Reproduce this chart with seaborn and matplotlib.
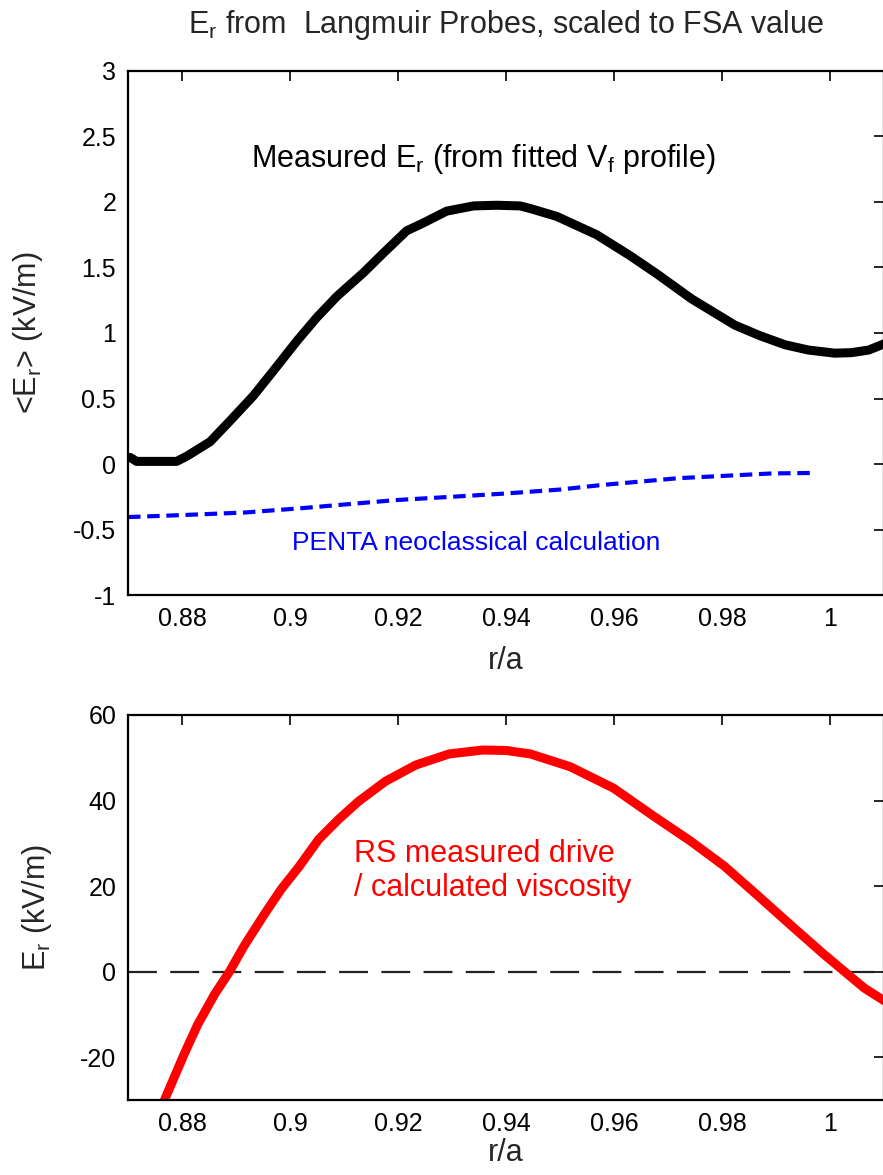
import matplotlib
matplotlib.use("Agg")
import matplotlib.pyplot as plt
import numpy as np
import pandas as pd
import seaborn as sns

# Measured Er profile from Langmuir probes (FSA-scaled), kV/m
meas_x = [0.8704, 0.8716, 0.8750, 0.8790, 0.8809, 0.8852, 0.8889, 0.8932,
          0.8969, 0.9013, 0.9050, 0.9087, 0.9136, 0.9173, 0.9216, 0.9247,
          0.9290, 0.9340, 0.9383, 0.9426, 0.9445, 0.9494, 0.9568, 0.9630,
          0.9680, 0.9744, 0.9824, 0.9870, 0.9917, 0.9960, 1.0009, 1.0040,
          1.0072, 1.0102]
meas_er = [0.05, 0.02, 0.02, 0.02, 0.06, 0.17, 0.33, 0.52,
           0.71, 0.94, 1.12, 1.28, 1.46, 1.61, 1.78, 1.84,
           1.93, 1.97, 1.975, 1.97, 1.95, 1.89, 1.75, 1.59,
           1.45, 1.26, 1.06, 0.98, 0.91, 0.87, 0.846, 0.85,
           0.87, 0.92]

# PENTA neoclassical Er, kV/m
penta_x = [0.8700, 0.8800, 0.8917, 0.9022, 0.9194, 0.9300, 0.9400,
           0.9500, 0.9578, 0.9720, 0.9806, 0.9893, 0.9972]
penta_er = [-0.405, -0.390, -0.370, -0.337, -0.276, -0.250, -0.225,
            -0.195, -0.160, -0.108, -0.090, -0.072, -0.068]

# Er from Reynolds-stress drive / calculated viscosity, kV/m
rs_x = [0.8767, 0.8804, 0.8829, 0.8860, 0.8888, 0.8916, 0.8953, 0.8984,
        0.9016, 0.9053, 0.9090, 0.9127, 0.9177, 0.9233, 0.9295, 0.9357,
        0.9400, 0.9445, 0.9519, 0.9599, 0.9674, 0.9742, 0.9804, 0.9866,
        0.9928, 0.9990, 1.0027, 1.0064, 1.0104]
rs_er = [-30.2, -19.3, -12.4, -5.4, 0.0, 6.2, 13.5, 19.3,
         24.4, 30.9, 35.6, 39.8, 44.5, 48.3, 50.9, 51.8,
         51.7, 50.9, 47.9, 42.9, 36.3, 30.5, 24.7, 17.8,
         10.8, 3.9, 0.0, -3.9, -7.1]

top_yticks = [-1, -0.5, 0, 0.5, 1, 1.5, 2, 2.5, 3]
top_ylabels = ["-1", "-0.5", "0", "0.5", "1", "1.5", "2", "2.5", "3"]
bot_yticks = [-20, 0, 20, 40, 60]
bot_ylabels = ["-20", "0", "20", "40", "60"]
xticks = [0.88, 0.90, 0.92, 0.94, 0.96, 0.98, 1.00]
xlabels = ["0.88", "0.9", "0.92", "0.94", "0.96", "0.98", "1"]

sns.set_theme(style="white")
plt.rcParams["font.family"] = ["Liberation Sans", "DejaVu Sans"]
plt.rcParams["mathtext.fontset"] = "custom"
plt.rcParams["mathtext.rm"] = "Liberation Sans"
plt.rcParams["mathtext.it"] = "Liberation Sans"
plt.rcParams["axes.unicode_minus"] = False

fig = plt.figure(figsize=(8.83, 11.75), dpi=100)
ax1 = fig.add_axes([0.145, 0.4936, 0.856, 0.4460])
ax2 = fig.add_axes([0.145, 0.0640, 0.856, 0.3275])

df_meas = pd.DataFrame({"x": meas_x, "y": meas_er})
df_penta = pd.DataFrame({"x": penta_x, "y": penta_er})
df_rs = pd.DataFrame({"x": rs_x, "y": rs_er})

sns.lineplot(data=df_meas, x="x", y="y", ax=ax1, color="black", lw=6.5,
             sort=False, estimator=None)
sns.lineplot(data=df_penta, x="x", y="y", ax=ax1, color="#0000ff", lw=3,
             sort=False, estimator=None)
ax1.lines[-1].set_dashes([3, 1.6])

ax2.axhline(0, color="#222222", lw=1.6, dashes=(13, 6))
sns.lineplot(data=df_rs, x="x", y="y", ax=ax2, color="#ff0000", lw=6.5,
             sort=False, estimator=None)

tick_fs = 18
label_fs = 22
for ax in (ax1, ax2):
    ax.set_xlim(0.87, 1.01)
    ax.set_xticks(xticks)
    ax.set_xticklabels(xlabels)
    ax.tick_params(direction="in", length=7, width=1.2, top=True, right=True,
                   labelsize=tick_fs, colors="black", pad=8.5)
    for s in ax.spines.values():
        s.set_color("black")
        s.set_linewidth(1.6)

ax1.set_xlabel("r/a", fontsize=label_fs, labelpad=11)
ax2.set_xlabel("r/a", fontsize=label_fs, labelpad=2)

ax1.set_ylim(-1, 3)
ax1.set_yticks(top_yticks)
ax1.set_yticklabels(top_ylabels)
ax1.set_ylabel(r"<E$_\mathregular{r}$> (kV/m)", fontsize=label_fs, labelpad=20)
ax1.set_title(r"E$_\mathregular{r}$ from  Langmuir Probes, scaled to FSA value",
              fontsize=22, pad=27)
ax1.text(0.9359, 2.33, r"Measured E$_\mathregular{r}$ (from fitted V$_\mathregular{f}$ profile)",
         fontsize=22, ha="center", va="center", color="black")
ax1.text(0.9345, -0.605, "PENTA neoclassical calculation",
         fontsize=19, ha="center", va="center", color="#0000ff")

ax2.set_ylim(-30, 60)
ax2.set_yticks(bot_yticks)
ax2.set_yticklabels(bot_ylabels)
ax2.set_ylabel(r"E$_\mathregular{r}$ (kV/m)", fontsize=label_fs, labelpad=19)
ax2.text(0.9118, 23.5, "RS measured drive\n/ calculated viscosity",
         fontsize=22, ha="left", va="center", color="#ff0000", linespacing=1.15)

fig.savefig("out.png", dpi=100)
